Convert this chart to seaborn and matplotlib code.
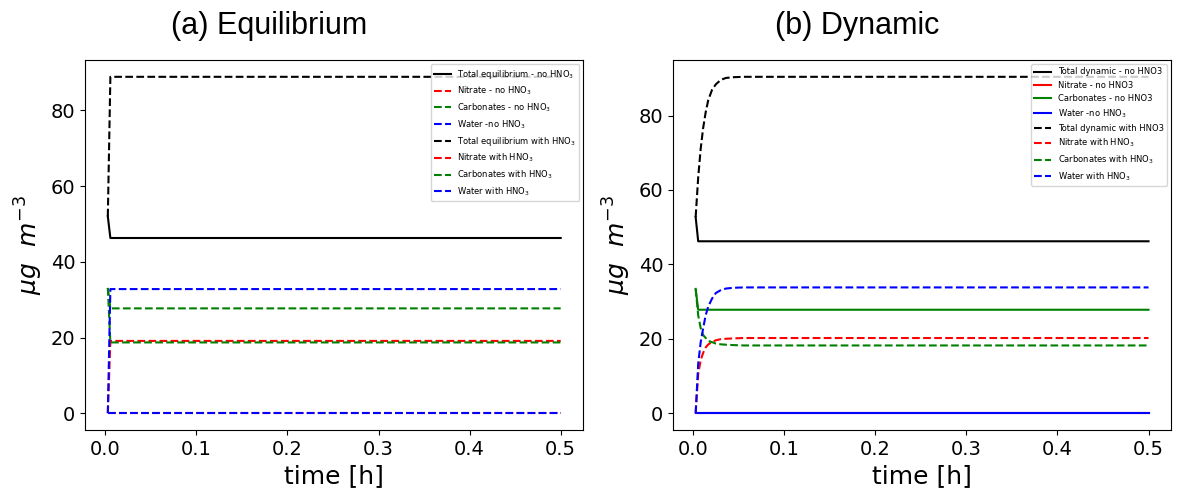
import matplotlib
matplotlib.use("Agg")
import matplotlib.pyplot as plt
import seaborn as sns

# time [h]
t_eq = [0.0028, 0.0056, 0.5]
t_dyn = [0.0028, 0.0056, 0.0083, 0.011, 0.0139, 0.0167, 0.0208, 0.025,
         0.0306, 0.0361, 0.0444, 0.0556, 0.5]

# (a) equilibrium, ug m-3
eq_total_no = [52.0, 46.3, 46.3]
eq_nitrate_no = [0.0, 0.0, 0.0]
eq_carb_no = [33.1, 27.7, 27.7]
eq_water_no = [0.0, 0.0, 0.0]
eq_total_with = [52.0, 88.9, 88.9]
eq_nitrate_with = [0.0, 19.1, 19.1]
eq_carb_with = [33.1, 18.7, 18.7]
eq_water_with = [0.0, 32.8, 32.8]

# (b) dynamic, ug m-3
dyn_total_no = [52.7, 46.2, 46.2, 46.2, 46.2, 46.2, 46.2, 46.2, 46.2, 46.2, 46.2, 46.2, 46.2]
dyn_nitrate_no = [0.0] * 13
dyn_carb_no = [33.4, 27.8, 27.8, 27.8, 27.8, 27.8, 27.8, 27.8, 27.8, 27.8, 27.8, 27.8, 27.8]
dyn_water_no = [0.0] * 13
dyn_total_with = [52.7, 63.4, 71.0, 76.6, 81.0, 84.2, 86.9, 88.4, 89.6, 90.1, 90.3, 90.4, 90.4]
dyn_nitrate_with = [0.0, 10.5, 14.2, 16.2, 17.7, 18.5, 19.1, 19.6, 19.9, 20.0, 20.1, 20.2, 20.2]
dyn_carb_with = [33.4, 26.3, 22.9, 21.0, 20.2, 19.4, 19.1, 18.7, 18.5, 18.4, 18.3, 18.2, 18.2]
dyn_water_with = [0.0, 13.3, 19.0, 22.8, 26.4, 28.7, 30.8, 32.3, 33.1, 33.5, 33.7, 33.8, 33.8]

eq_labels = ['Total equilibrium - no HNO$_3$', 'Nitrate - no HNO$_3$',
             'Carbonates - no HNO$_3$', 'Water -no HNO$_3$',
             'Total equilibrium with HNO$_3$', 'Nitrate with HNO$_3$',
             'Carbonates with HNO$_3$', 'Water with HNO$_3$']
dyn_labels = ['Total dynamic - no HNO3', 'Nitrate - no HNO3',
              'Carbonates - no HNO3', 'Water -no HNO$_3$',
              'Total dynamic with HNO3', 'Nitrate with HNO$_3$',
              'Carbonates with HNO$_3$', 'Water with HNO$_3$']
colors = ['black', 'red', 'green', 'blue'] * 2

fig, axes = plt.subplots(1, 2, figsize=(11.83, 5), dpi=100)
fig.subplots_adjust(left=0.072, right=0.99, bottom=0.14, top=0.88, wspace=0.18)

eq_series = [eq_total_no, eq_nitrate_no, eq_carb_no, eq_water_no,
             eq_total_with, eq_nitrate_with, eq_carb_with, eq_water_with]
eq_styles = ['-'] + ['--'] * 7
ax = axes[0]
for y, lab, c, ls in zip(eq_series, eq_labels, colors, eq_styles):
    sns.lineplot(x=t_eq, y=y, ax=ax, color=c, linestyle=ls, label=lab, linewidth=1.5)

dyn_series = [dyn_total_no, dyn_nitrate_no, dyn_carb_no, dyn_water_no,
              dyn_total_with, dyn_nitrate_with, dyn_carb_with, dyn_water_with]
dyn_styles = ['-'] * 4 + ['--'] * 4
ax = axes[1]
for y, lab, c, ls in zip(dyn_series, dyn_labels, colors, dyn_styles):
    sns.lineplot(x=t_dyn, y=y, ax=ax, color=c, linestyle=ls, label=lab, linewidth=1.5)

for ax, title in zip(axes, ['(a) Equilibrium', '(b) Dynamic']):
    ax.set_title(title, fontsize=22, family='Liberation Sans', pad=19, x=0.37)
    ax.set_xlabel('time [h]', fontsize=18)
    ax.set_ylabel(r'$\mu g\ \ m^{-3}$', fontsize=18)
    ax.tick_params(labelsize=14)
    ax.legend(loc='upper right', fontsize=6)

fig.savefig('out.png', dpi=100)
